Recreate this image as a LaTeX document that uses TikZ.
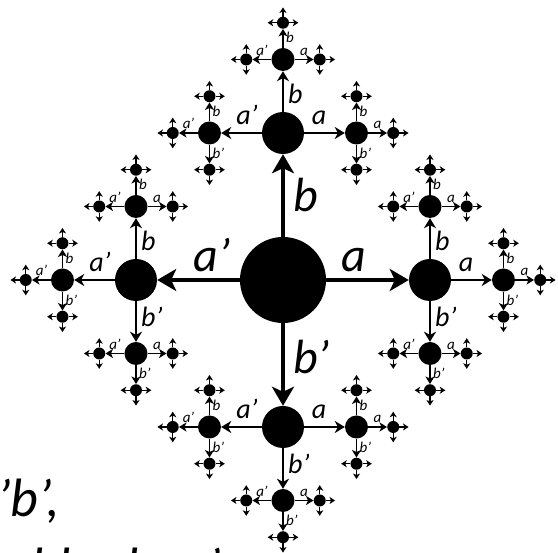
\documentclass[tikz,border=0pt]{standalone}
\usepackage{fontspec}
\setmainfont{Carlito}
\usetikzlibrary{arrows.meta}

% sizes per level of the free group tree
\newcommand\cstep[1]{\ifcase#1 147\or 73.5\or 36.75\or 15.3\fi}
\newcommand\labalong[1]{\ifcase#1 71\or 36\or 21\fi}
\newcommand\labrise[1]{\ifcase#1 8\or 8\or 4\fi}
\newcommand\labside[1]{\ifcase#1 10\or 5\or 3\fi}
\newcommand\labup[1]{\ifcase#1 85\or 39\or 22\fi}
\newcommand\labdown[1]{\ifcase#1 77\or 37\or 20\fi}

% #1 name, #2 x, #3 y, #4 level, #5 direction back to the parent
\newcommand\growcayley[5]{%
  \foreach \d/\dx/\dy/\gen in {0/1/0/a,1/0/1/b,2/-1/0/a’,3/0/-1/b’}{%
    \ifnum\d=#5\relax\else
      \edef\len{\cstep{#4}}%
      \pgfmathsetmacro\cx{#2+\dx*\len}%
      \pgfmathsetmacro\cy{#3+\dy*\len}%
      \pgfmathtruncatemacro\nl{#4+1}%
      \pgfmathtruncatemacro\nb{mod(\d+2,4)}%
      \ifnum#4<3
        \node[vertex\nl] (#1-\d) at (\cx,\cy) {};
        \draw[edge#4] (#1) -- (#1-\d);
        \ifnum\dx=0
          \ifnum\dy>0 \edef\lalong{\labup{#4}}\else\edef\lalong{\labdown{#4}}\fi
          \pgfmathsetmacro\lx{#2+\labside{#4}}%
          \pgfmathsetmacro\ly{#3+\dy*\lalong}%
          \node[lab#4,anchor=west] (#1-\d-l) at (\lx,\ly) {\gen};
        \else
          \pgfmathsetmacro\lx{#2+\dx*\labalong{#4}}%
          \pgfmathsetmacro\ly{#3+\labrise{#4}}%
          \node[lab#4,anchor=base] (#1-\d-l) at (\lx,\ly) {\gen};
        \fi
        \edef\cayleynext{\noexpand\growcayley{#1-\d}{\cx}{\cy}{\nl}{\nb}}%
        \cayleynext
      \else
        \coordinate (#1-\d) at (\cx,\cy);
        \draw[edge3] (#1) -- (#1-\d);
      \fi
    \fi
  }%
}

\begin{document}
\begin{tikzpicture}[x=1pt,y=1pt,
  vertex0/.style={circle,fill=black,inner sep=0pt,minimum size=86pt},
  vertex1/.style={circle,fill=black,inner sep=0pt,minimum size=42pt},
  vertex2/.style={circle,fill=black,inner sep=0pt,minimum size=23pt},
  vertex3/.style={circle,fill=black,inner sep=0pt,minimum size=12pt},
  edge0/.style={line width=4.3pt,-{Stealth[length=19pt,width=22pt,inset=5pt]}},
  edge1/.style={line width=2.6pt,-{Stealth[length=10pt,width=12pt,inset=3pt]}},
  edge2/.style={line width=1.8pt,-{Stealth[length=7.5pt,width=9pt,inset=2pt]}},
  edge3/.style={line width=1.3pt,-{Stealth[length=5.5pt,width=7pt,inset=1.5pt]}},
  lab0/.style={font=\fontsize{48}{48}\selectfont\itshape,inner sep=0pt},
  lab1/.style={font=\fontsize{28}{28}\selectfont\itshape,inner sep=0pt},
  lab2/.style={font=\fontsize{15}{15}\selectfont\itshape,inner sep=0pt},
  wordline/.style={font=\fontsize{54}{54}\selectfont\itshape,inner sep=0pt,anchor=base west}]
\useasboundingbox (-283,-273) rectangle (275,280);

\node[vertex0] (O) at (0,0) {};
\growcayley{O}{0}{0}{0}{9}

% words, cut by the frame
\node[wordline] (row1) at (-286,-237) {’b’,};
\node[wordline] (row2) at (-252,-306) {bb ab, a’};

\end{tikzpicture}
\end{document}
